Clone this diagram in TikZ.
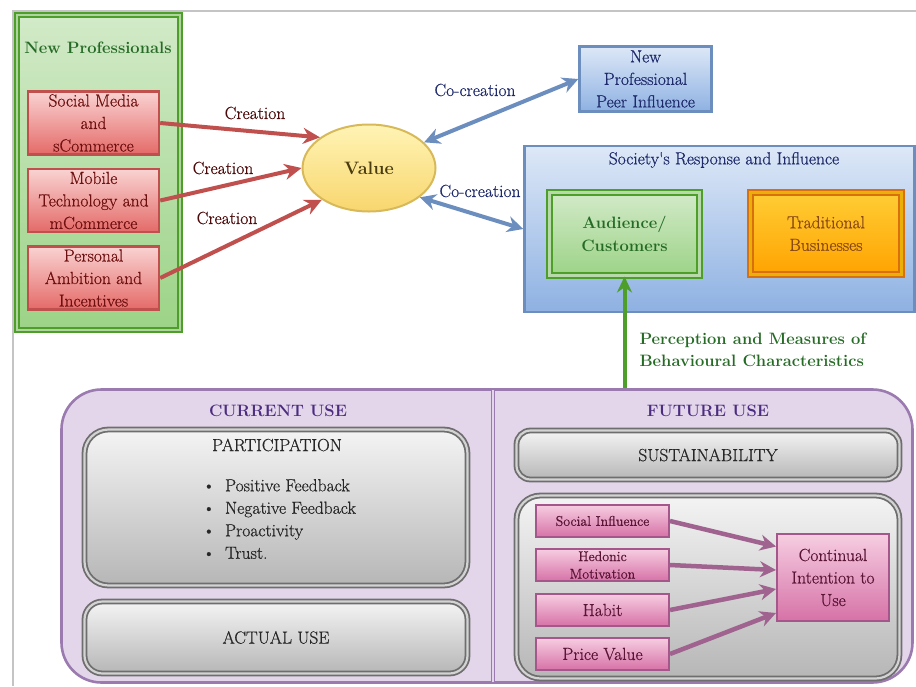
\documentclass[tikz,border=0pt]{standalone}
\usepackage{fontspec}
\setmainfont{Latin Modern Roman}[UprightFeatures={FakeBold=0.6}]
\usetikzlibrary{arrows.meta, positioning, shapes.geometric}
\definecolor{cframe}{HTML}{C4C4C4}
\definecolor{cgreen}{HTML}{4E9F2A}
\definecolor{cgreentop}{HTML}{D2EAC8}
\definecolor{cgreenbot}{HTML}{9CD387}
\definecolor{cgreentxt}{HTML}{256B25}
\definecolor{cred}{HTML}{C0504D}
\definecolor{credtop}{HTML}{F9D3D2}
\definecolor{credbot}{HTML}{E46A68}
\definecolor{credtxt}{HTML}{6E1010}
\definecolor{cyellow}{HTML}{D8B95A}
\definecolor{cyellowtop}{HTML}{FFF4B5}
\definecolor{cyellowbot}{HTML}{F8D66E}
\definecolor{colive}{HTML}{4A3C10}
\definecolor{cblue}{HTML}{6C8EBF}
\definecolor{cbluetop}{HTML}{DDE8F7}
\definecolor{cbluebot}{HTML}{8EB1E2}
\definecolor{cnavy}{HTML}{1F2A6B}
\definecolor{corange}{HTML}{D8700F}
\definecolor{corangetop}{HTML}{FFCD35}
\definecolor{corangebot}{HTML}{FFA300}
\definecolor{cbrown}{HTML}{8A4A16}
\definecolor{cpurple}{HTML}{9A7AAF}
\definecolor{clilac}{HTML}{E3D6EA}
\definecolor{cplum}{HTML}{4B2C7F}
\definecolor{cgrey}{HTML}{6E6E6E}
\definecolor{cgreytop}{HTML}{F4F4F4}
\definecolor{cgreybot}{HTML}{B6B6B6}
\definecolor{cpink}{HTML}{A5568A}
\definecolor{cpinktop}{HTML}{F6CDE1}
\definecolor{cpinkbot}{HTML}{D672A7}
\definecolor{cpinktxt}{HTML}{5A1535}
\definecolor{cmauve}{HTML}{A0628F}
\tikzset{
  txt/.style={font=\fontsize{17.5}{22.5}\selectfont},
  txtb/.style={font=\fontsize{16.5}{22.5}\selectfont\bfseries},
  txts/.style={font=\fontsize{14}{17.5}\selectfont},
  every picture/.style={txt},
  greenframe/.style={draw=cgreen, double=cgreen!45!white, double distance=2.4pt, line width=1.8pt,
    top color=cgreentop, bottom color=cgreenbot},
  redbox/.style={draw=cred, line width=2.4pt, top color=credtop, bottom color=credbot, text=credtxt,
    align=center, inner sep=1pt, minimum width=131pt, minimum height=63pt},
  valueell/.style={ellipse, draw=cyellow, line width=2pt, top color=cyellowtop, bottom color=cyellowbot,
    text=colive, font=\fontsize{18}{22}\selectfont\bfseries, inner sep=0pt, minimum width=133pt, minimum height=87pt},
  bluebox/.style={draw=cblue, line width=2.4pt, top color=cbluetop, bottom color=cbluebot, text=cnavy, align=center},
  greenbox/.style={draw=cgreen, double=cgreen!40!white, double distance=2.4pt, line width=2pt,
    top color=cgreentop, bottom color=cgreenbot, text=cgreentxt, txtb, align=center,
    minimum width=150pt, minimum height=83pt},
  orangebox/.style={draw=corange, double=corange!55!yellow, double distance=2.4pt, line width=2pt,
    top color=corangetop, bottom color=corangebot, text=cbrown, align=center,
    minimum width=151pt, minimum height=82pt},
  panel/.style={draw=cpurple, line width=2.6pt, fill=clilac, rounded corners=40pt},
  greybox/.style={draw=cgrey, double=cgrey!30!white, double distance=2.2pt, line width=1.8pt,
    top color=cgreytop, bottom color=cgreybot, rounded corners=#1},
  greybox/.default=18pt,
  pinkbox/.style={draw=cpink, line width=2pt, top color=cpinktop, bottom color=cpinkbot, text=cpinktxt,
    align=center, inner sep=1pt, minimum width=133pt, minimum height=32pt},
  creation/.style={-{Stealth[length=17pt, width=16pt]}, draw=cred, line width=4pt},
  cocreation/.style={{Stealth[length=16pt, width=16pt]}-{Stealth[length=16pt, width=16pt]}, draw=cblue, line width=4pt},
  perceive/.style={-{Stealth[length=16pt, width=15pt]}, draw=cgreen, line width=4pt},
  utaut/.style={-{Stealth[length=16pt, width=16pt]}, draw=cmauve, line width=4.5pt},
}

\begin{document}
\begin{tikzpicture}[x=1pt, y=-1pt]
  \useasboundingbox (0,0) rectangle (916,686);
  \draw[cframe, line width=2pt] (13,686) -- (13,11) -- (916,11);

  % new professionals
  \node[greenframe, minimum width=163pt, minimum height=315pt] (newprof) at (98.5,172.5) {};
  \node[txtb, text=cgreentxt] (nptitle) at (98,48) {New Professionals};
  \node[redbox] (social) at (93.5,123) {Social Media\\and\\sCommerce};
  \node[redbox] (mobile) at (93.5,200.5) {Mobile\\Technology and\\mCommerce};
  \node[redbox] (personal) at (93.5,278) {Personal\\Ambition and\\Incentives};

  \node[valueell] (value) at (369,168) {Value};
  \draw[creation] (social.east) -- (value.148);
  \draw[creation] (mobile.east) -- (value.180);
  \draw[creation] (personal.east) -- (value.214);
  \node[text=credtxt!70!black] (cr1) at (255,113) {Creation};
  \node[text=credtxt!70!black] (cr2) at (223,168) {Creation};
  \node[text=credtxt!70!black] (cr3) at (227,218) {Creation};

  % society
  \node[bluebox, minimum width=132pt, minimum height=65pt, inner sep=1pt] (peer) at (645.5,79) {New\\Professional\\Peer Influence};
  \node[bluebox, minimum width=390pt, minimum height=166pt] (society) at (719.5,229) {};
  \node[text=cnavy] (soctitle) at (724,160) {Society\textquotesingle s Response and Influence};
  \node[greenbox] (audience) at (624.5,234) {Audience/\\Customers};
  \node[orangebox] (tradbiz) at (826,233.5) {Traditional\\Businesses};
  \draw[cocreation] (value.25) -- (peer.west);
  \draw[cocreation] (value.-30) -- (society.west);
  \node[text=cnavy] (cc1) at (475,90) {Co-creation};
  \node[text=cnavy] (cc2) at (480,191) {Co-creation};

  % current and future use
  \node[panel, minimum width=851pt, minimum height=293pt] (usepanel) at (487,536) {};
  \draw[cpurple, double=clilac, double distance=1.5pt, line width=1.2pt] (493,390) -- (493,682);
  \coordinate (pstart) at (audience.south |- usepanel.north);
  \draw[perceive] (pstart) -- (audience.south);
  \node[txtb, text=cgreentxt, align=left, anchor=west] (perclbl) at (636,350) {Perception and Measures of\\Behavioural Characteristics};

  \node[txtb, text=cplum] (curtitle) at (278,411) {CURRENT USE};
  \node[txtb, text=cplum] (futtitle) at (708,411) {FUTURE USE};

  \node[greybox=24pt, minimum width=383pt, minimum height=156pt] (particip) at (276,507.5) {};
  \node[text=black!85] (partitle) at (277,445) {PARTICIPATION};
  \node[text=black!85, align=left, anchor=west] (partlist) at (199,519)
    {\textbullet\hspace{10pt}Positive Feedback\\\textbullet\hspace{10pt}Negative Feedback\\
     \textbullet\hspace{10pt}Proactivity\\\textbullet\hspace{10pt}Trust.};
  \node[greybox, minimum width=383pt, minimum height=72pt, text=black!85] (actual) at (276,637.5) {ACTUAL USE};

  \node[greybox=14pt, minimum width=383pt, minimum height=49pt, text=black!85] (sustain) at (708,455) {SUSTAINABILITY};
  \node[greybox=24pt, minimum width=383pt, minimum height=183pt] (utautbox) at (708,587) {};
  \node[pinkbox, txts] (socinf) at (602.5,521) {Social Influence};
  \node[pinkbox, txts] (hedonic) at (602.5,565) {Hedonic\\Motivation};
  \node[pinkbox] (habit) at (602.5,610) {Habit};
  \node[pinkbox] (price) at (602.5,654) {Price Value};
  \node[pinkbox, minimum width=112pt, minimum height=87pt] (contint) at (833,577.5) {Continual\\Intention to\\Use};
  \draw[utaut] (socinf.east) -- ([yshift=31pt]contint.west);
  \draw[utaut] (hedonic.east) -- ([yshift=7.5pt]contint.west);
  \draw[utaut] (habit.east) -- ([yshift=-11.5pt]contint.west);
  \draw[utaut] (price.east) -- ([yshift=-35.5pt]contint.west);
\end{tikzpicture}
\end{document}
